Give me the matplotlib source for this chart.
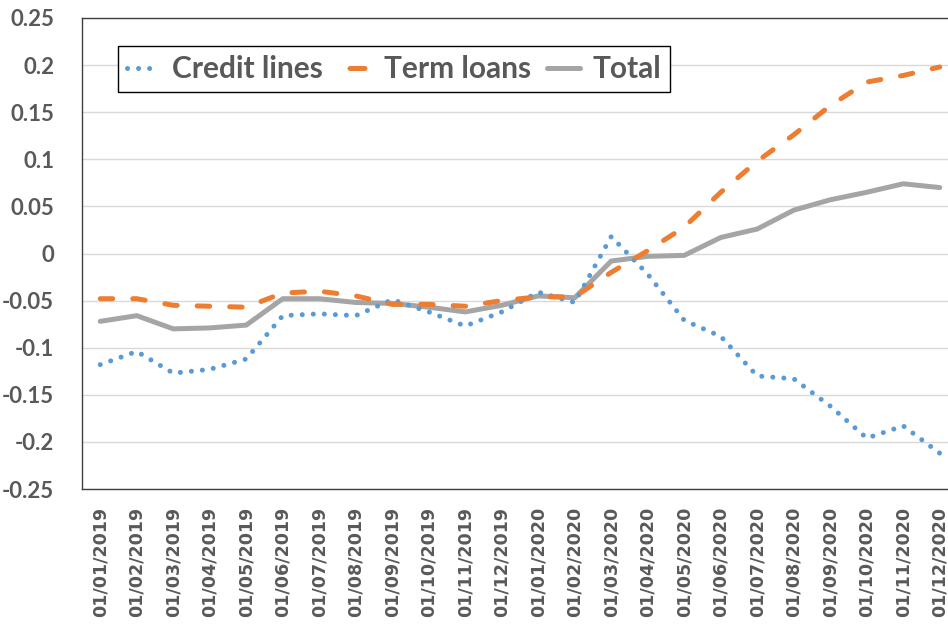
import matplotlib
matplotlib.use("Agg")
import matplotlib.pyplot as plt
from matplotlib.ticker import FixedLocator

dates = ["01/01/2019", "01/02/2019", "01/03/2019", "01/04/2019", "01/05/2019", "01/06/2019",
         "01/07/2019", "01/08/2019", "01/09/2019", "01/10/2019", "01/11/2019", "01/12/2019",
         "01/01/2020", "01/02/2020", "01/03/2020", "01/04/2020", "01/05/2020", "01/06/2020",
         "01/07/2020", "01/08/2020", "01/09/2020", "01/10/2020", "01/11/2020", "01/12/2020"]

credit_lines = [-0.118, -0.104, -0.127, -0.123, -0.112, -0.066, -0.064, -0.066, -0.049, -0.062,
                -0.077, -0.062, -0.041, -0.052, 0.018, -0.022, -0.071, -0.088, -0.130, -0.133,
                -0.162, -0.196, -0.183, -0.212]
term_loans = [-0.048, -0.048, -0.055, -0.056, -0.057, -0.042, -0.040, -0.045, -0.054, -0.054,
              -0.056, -0.050, -0.046, -0.046, -0.020, 0.003, 0.028, 0.065, 0.098, 0.126,
              0.157, 0.182, 0.189, 0.198]
total = [-0.072, -0.066, -0.080, -0.079, -0.076, -0.048, -0.048, -0.052, -0.053, -0.057,
         -0.062, -0.055, -0.045, -0.047, -0.008, -0.003, -0.002, 0.017, 0.026, 0.046,
         0.057, 0.065, 0.074, 0.070]

yticks = [0.25, 0.2, 0.15, 0.1, 0.05, 0, -0.05, -0.1, -0.15, -0.2, -0.25]
ytick_labels = ["0.25", "0.2", "0.15", "0.1", "0.05", "0", "-0.05", "-0.1", "-0.15", "-0.2", "-0.25"]

TXT = "#595959"
fig = plt.figure(figsize=(9.48, 6.28), dpi=100)
ax = fig.add_axes([82 / 948, 139 / 628, 876 / 948, 471 / 628])

x = list(range(len(dates)))
ax.plot(x, credit_lines, color="#5B9BD5", lw=3.6, linestyle=(0, (0.01, 2.2)),
        dash_capstyle="round", label="Credit lines", zorder=3)
ax.plot(x, term_loans, color="#ED7D31", lw=3.6, linestyle=(0, (2.5, 4.0)),
        dash_capstyle="round", label="Term loans", zorder=3)
ax.plot(x, total, color="#A5A5A5", lw=3.6, solid_capstyle="round", label="Total", zorder=2)

ax.set_xlim(-0.5, len(dates) - 0.5)
ax.set_ylim(-0.25, 0.25)
ax.yaxis.set_major_locator(FixedLocator(yticks))
ax.set_yticklabels(ytick_labels, fontfamily="Lato", fontweight="bold", fontsize=16, color=TXT)
ax.set_xticks(x)
ax.set_xticklabels(dates, rotation=90, fontfamily="DejaVu Sans", fontweight="bold",
                   fontsize=12.6, color=TXT)
ax.tick_params(axis="both", length=0)
ax.tick_params(axis="y", pad=20)
ax.tick_params(axis="x", pad=13)

ax.grid(axis="y", color="#D9D9D9", lw=1.0, zorder=0)
ax.set_axisbelow(True)
for s in ax.spines.values():
    s.set_color("#404040")
    s.set_linewidth(1.0)

leg = ax.legend(loc="upper left", bbox_to_anchor=(0.041, 0.94), ncol=3, frameon=True,
                fancybox=False, edgecolor="black", framealpha=1,
                prop={"family": "Lato", "weight": "bold", "size": 21.5},
                handlelength=1.1, handletextpad=0.4, columnspacing=0.55,
                borderpad=0.3, borderaxespad=0)
leg.get_frame().set_linewidth(1.0)
for t in leg.get_texts():
    t.set_color(TXT)
leg.get_lines()[1].set_linestyle((10.9, (3.0, 10.0)))

fig.savefig("out.png", dpi=100)
